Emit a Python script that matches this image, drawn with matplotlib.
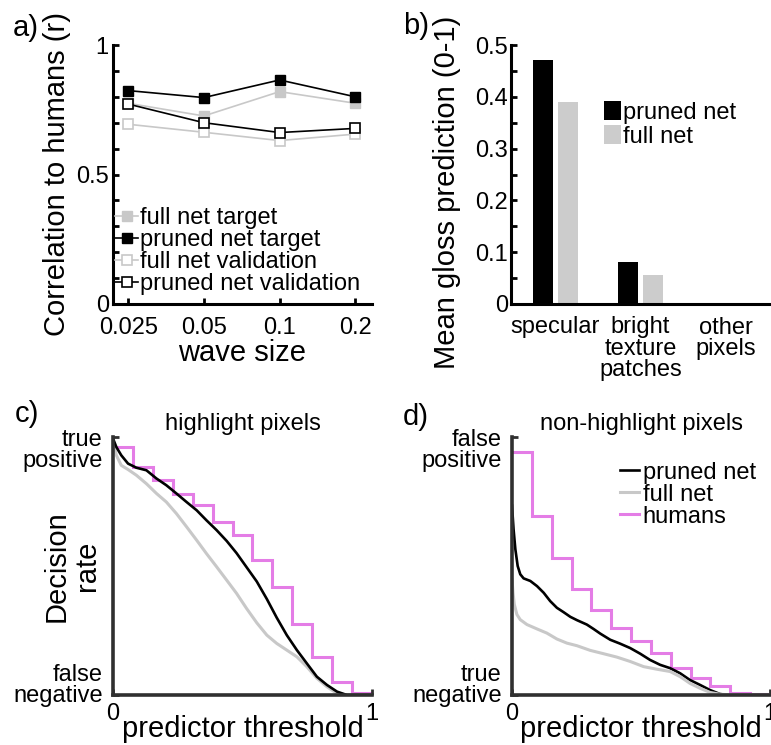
import numpy as np
import matplotlib
matplotlib.use("Agg")
import matplotlib.pyplot as plt

plt.rcParams['font.family'] = ['Liberation Sans', 'DejaVu Sans']

# ---- panel a: correlation vs wave size
wave_sizes = ["0.025", "0.05", "0.1", "0.2"]
full_target = [0.775, 0.726, 0.820, 0.775]
pruned_target = [0.824, 0.797, 0.865, 0.800]
full_valid = [0.694, 0.663, 0.631, 0.656]
pruned_valid = [0.772, 0.700, 0.662, 0.678]

# ---- panel b: mean gloss prediction
regions = ["specular", "bright\ntexture\npatches", "other\npixels"]
gloss_pruned = [0.471, 0.082, 0.002]
gloss_full = [0.389, 0.056, 0.001]

# ---- panel c: highlight pixels (threshold, rate)
c_pruned_x = [0, 0.013, 0.032, 0.058, 0.090, 0.129, 0.168, 0.206, 0.245, 0.284, 0.323, 0.361,
              0.400, 0.439, 0.477, 0.516, 0.555, 0.594, 0.632, 0.671, 0.710, 0.748, 0.787,
              0.826, 0.865, 0.903, 1.0]
c_pruned_y = [0.994, 0.961, 0.929, 0.897, 0.881, 0.871, 0.839, 0.813, 0.781, 0.748, 0.716, 0.677,
              0.639, 0.597, 0.550, 0.495, 0.440, 0.372, 0.300, 0.232, 0.174, 0.123, 0.071,
              0.039, 0.013, 0.0, 0.0]
c_full_x = [0, 0.013, 0.032, 0.058, 0.090, 0.129, 0.168, 0.206, 0.245, 0.284, 0.323, 0.361,
            0.400, 0.439, 0.477, 0.516, 0.555, 0.594, 0.632, 0.671, 0.710, 0.748, 0.787,
            0.826, 0.865, 0.903, 1.0]
c_full_y = [0.987, 0.929, 0.890, 0.874, 0.852, 0.819, 0.781, 0.748, 0.703, 0.652, 0.600, 0.548,
            0.497, 0.445, 0.394, 0.335, 0.280, 0.232, 0.200, 0.174, 0.148, 0.110, 0.065,
            0.032, 0.006, 0.0, 0.0]
c_humans = [0.961, 0.884, 0.832, 0.781, 0.735, 0.671, 0.619, 0.523, 0.417, 0.277, 0.148,
            0.052, 0.006]

# ---- panel d: non-highlight pixels
d_pruned_x = [0, 0.006, 0.013, 0.022, 0.032, 0.045, 0.071, 0.097, 0.123, 0.148, 0.174, 0.200,
              0.226, 0.252, 0.290, 0.316, 0.342, 0.381, 0.419, 0.458, 0.497, 0.535, 0.574,
              0.613, 0.652, 0.690, 0.729, 0.768, 0.806, 0.832, 1.0]
d_pruned_y = [0.734, 0.643, 0.565, 0.500, 0.468, 0.452, 0.442, 0.422, 0.396, 0.364, 0.338, 0.321,
              0.303, 0.290, 0.273, 0.256, 0.238, 0.214, 0.199, 0.182, 0.160, 0.136, 0.117,
              0.104, 0.084, 0.058, 0.039, 0.019, 0.004, 0.0, 0.0]
d_full_x = [0, 0.004, 0.009, 0.019, 0.032, 0.058, 0.097, 0.135, 0.174, 0.213, 0.252, 0.303,
            0.355, 0.406, 0.458, 0.510, 0.561, 0.613, 0.652, 0.690, 0.729, 0.768, 0.806,
            0.858, 1.0]
d_full_y = [0.448, 0.396, 0.351, 0.312, 0.292, 0.273, 0.256, 0.240, 0.217, 0.201, 0.191, 0.173,
            0.160, 0.147, 0.130, 0.110, 0.100, 0.091, 0.071, 0.045, 0.026, 0.010, 0.003,
            0.0, 0.0]
d_humans = [0.942, 0.695, 0.530, 0.412, 0.329, 0.260, 0.208, 0.162, 0.104, 0.065, 0.035,
            0.009, 0.002]

GREY = '#c8c8c8'
PINK = '#e47de6'
W, H = 771, 745


def box(left, top, right, bottom):
    return [left / W, 1 - bottom / H, (right - left) / W, (bottom - top) / H]


fig = plt.figure(figsize=(W / 100, H / 100), dpi=100)

# ===== a
ax = fig.add_axes(box(113, 45, 372, 304))
xs = np.arange(1, len(wave_sizes) + 1)
ax.plot(xs, full_target, '-s', color=GREY, mfc=GREY, mec=GREY, ms=7, lw=1.2, label='full net target')
ax.plot(xs, pruned_target, '-s', color='k', mfc='k', mec='k', ms=7, lw=1.2, label='pruned net target')
ax.plot(xs, full_valid, '-s', color=GREY, mfc='white', mec=GREY, ms=7, mew=1.2, lw=1.2,
        label='full net validation')
ax.plot(xs, pruned_valid, '-s', color='k', mfc='white', mec='k', ms=7, mew=1.2, lw=1.2,
        label='pruned net validation')
ax.set_xlim(0.8, 4.22)
ax.set_ylim(0, 1)
ax.set_xticks(xs)
ax.set_xticklabels(wave_sizes)
ax.set_yticks([0, 0.5, 1])
ax.set_yticklabels(['0', '0.5', '1'])
ax.set_yticks(np.arange(0, 1.01, 0.1), minor=True)
ax.tick_params(which='both', direction='in', width=2, length=4, labelsize=17)
ax.tick_params(axis='x', pad=9)
ax.tick_params(axis='y', pad=3)
for s in ['top', 'right']:
    ax.spines[s].set_visible(False)
for s in ['left', 'bottom']:
    ax.spines[s].set_linewidth(2.2)
ax.set_ylabel('Correlation to humans (r)', fontsize=21, va='center')
ax.yaxis.set_label_coords(-0.215, 0.5)
ax.set_xlabel('wave size', fontsize=21, va='center')
ax.xaxis.set_label_coords(0.5, -0.19)
ax.legend(loc='lower left', bbox_to_anchor=(0.0, 0.025), frameon=False, fontsize=17,
          handlelength=0.95, handletextpad=0.1, labelspacing=0.0, borderpad=0.1,
          borderaxespad=0.0)

# ===== b
bx = fig.add_axes(box(511, 45, 770, 304))
pos = np.arange(1, len(regions) + 1)
bx.bar(pos - 0.146, gloss_pruned, width=0.234, color='k', label='pruned net')
bx.bar(pos + 0.146, gloss_full, width=0.234, color='#cccccc', label='full net')
bx.set_xlim(0.485, 3.515)
bx.set_ylim(0, 0.5)
bx.set_xticks(pos)
bx.set_xticklabels(regions, linespacing=0.95)
bx.set_yticks(np.arange(0, 0.51, 0.1))
bx.set_yticklabels(['0', '0.1', '0.2', '0.3', '0.4', '0.5'])
bx.set_yticks(np.arange(0, 0.51, 0.05), minor=True)
bx.tick_params(which='both', direction='in', width=2, length=4, labelsize=17)
bx.tick_params(axis='x', length=0, pad=9)
bx.tick_params(axis='y', pad=2)
for s in ['top', 'right']:
    bx.spines[s].set_visible(False)
for s in ['left', 'bottom']:
    bx.spines[s].set_linewidth(2.2)
bx.set_ylabel('Mean gloss prediction (0-1)', fontsize=21, va='center')
bx.yaxis.set_label_coords(-0.247, 0.43)
bx.legend(loc='upper left', bbox_to_anchor=(0.36, 0.785), frameon=False, fontsize=17,
          handlelength=0.72, handleheight=0.9, handletextpad=0.08, labelspacing=0.05,
          borderpad=0.0, borderaxespad=0.0)


def roc_axes(rect, title, top_lbl, bot_lbl):
    a = fig.add_axes(rect)
    a.set_xlim(0, 1)
    a.set_ylim(0, 1)
    a.set_xticks([0, 1])
    a.set_xticklabels(['0', '1'])
    a.set_yticks([0, 1])
    a.set_yticklabels(['', ''])
    a.tick_params(direction='in', width=2, length=4, labelsize=17, color='#303030')
    a.tick_params(axis='x', pad=6)
    for s in ['top', 'right']:
        a.spines[s].set_visible(False)
    for s in ['left', 'bottom']:
        a.spines[s].set_linewidth(2.6)
        a.spines[s].set_color('#303030')
    a.text(-0.04, 1.03, top_lbl, transform=a.transAxes, ha='right', va='top',
           fontsize=17, linespacing=0.9)
    a.text(-0.04, -0.045, bot_lbl, transform=a.transAxes, ha='right', va='bottom',
           fontsize=17, linespacing=0.9)
    a.set_title(title, fontsize=17, pad=5)
    a.set_xlabel('predictor threshold', fontsize=21, va='center')
    a.xaxis.set_label_coords(0.5, -0.13)
    return a


# ===== c
cx = roc_axes(box(113, 437, 372, 695), 'highlight pixels', 'true\npositive', 'false\nnegative')
edges = np.linspace(0, 1, len(c_humans) + 1)
cx.stairs(c_humans, edges, baseline=None, color=PINK, lw=2.2)
cx.plot(c_full_x, c_full_y, color=GREY, lw=2.2)
cx.plot(c_pruned_x, c_pruned_y, color='k', lw=1.9)
cx.set_ylabel('Decision\nrate', fontsize=21, va='center', linespacing=1.1)
cx.yaxis.set_label_coords(-0.16, 0.5)

# ===== d
dx = roc_axes(box(512, 437, 770, 695), 'non-highlight pixels', 'false\npositive', 'true\nnegative')
edges = np.linspace(0, 1, len(d_humans) + 1)
dx.plot(d_pruned_x, d_pruned_y, color='k', lw=1.9, label='pruned net')
dx.plot(d_full_x, d_full_y, color=GREY, lw=2.2, label='full net')
dx.stairs(d_humans, edges, baseline=None, color=PINK, lw=2.2, label='humans')
dx.legend(loc='upper left', bbox_to_anchor=(0.42, 0.905), frameon=False, fontsize=17,
          handlelength=0.8, handletextpad=0.15, labelspacing=0.0, borderpad=0.0,
          borderaxespad=0.0)

# panel letters
for lbl, px, py in [('a)', 13, 28), ('b)', 403, 26), ('c)', 15, 414), ('d)', 403, 417)]:
    fig.text(px / W, 1 - py / H, lbl, fontsize=21, va='center', ha='left')

fig.savefig('out.png', dpi=100)
